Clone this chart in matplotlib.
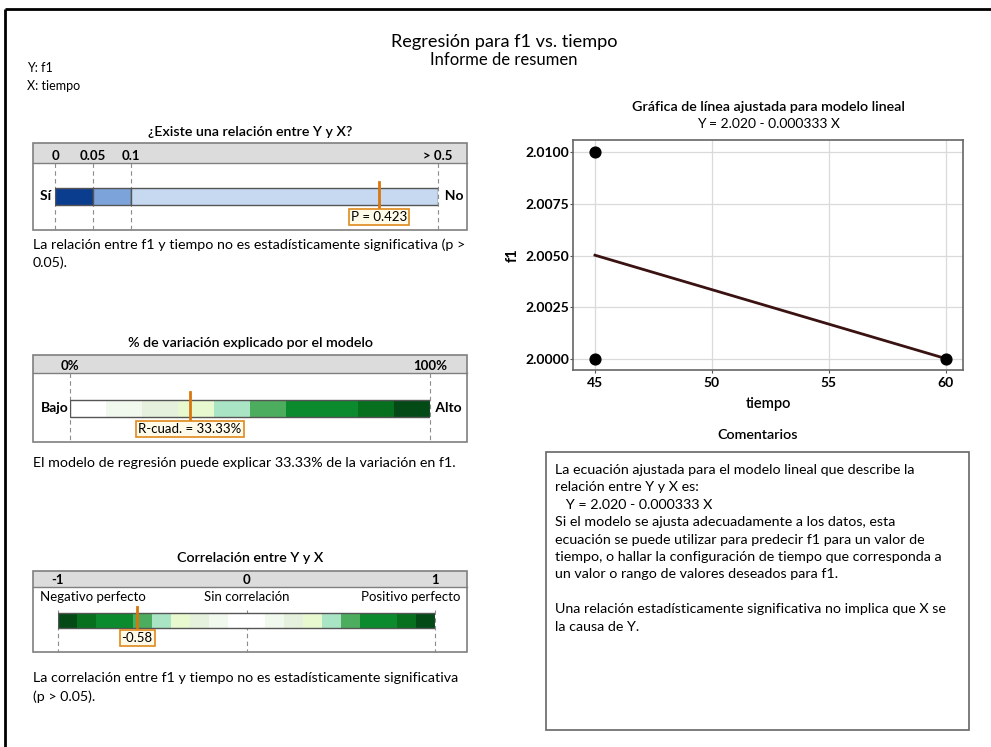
import numpy as np
import matplotlib
matplotlib.use("Agg")
import matplotlib.pyplot as plt
from matplotlib.patches import Rectangle

# ---------------- data ----------------
p_breaks = [0, 0.05, 0.1, 0.5]
p_labels = ["0", "0.05", "0.1", "> 0.5"]
p_colors = ["#0b3d8f", "#7ca4da", "#c6d9f1"]
p_value = 0.423

r2_breaks = [0, 10, 20, 30, 40, 50, 60, 70, 80, 90, 100]
r2_value = 33.33
green_pal = ["#ffffff", "#f1f8ee", "#e5f1dc", "#e8f8cf", "#a9e4c4",
             "#4dad5e", "#0b8a2e", "#0b8a2e", "#06701f", "#034a17"]

corr_breaks = list(np.round(np.arange(-1.0, 1.01, 0.1), 2))
corr_value = -0.58

tiempo = [45, 45, 60]
f1 = [2.010, 2.000, 2.000]
b0, b1 = 2.020, -0.000333
xticks = [45, 50, 55, 60]
yticks = [2.0000, 2.0025, 2.0050, 2.0075, 2.0100]

W, H = 991, 747
FONT = "Lato"
plt.rcParams["font.family"] = [FONT, "DejaVu Sans"]

fig = plt.figure(figsize=(W / 100, H / 100), dpi=100)
fig.patch.set_facecolor("white")

# overlay in pixel coordinates (for layout boxes and texts)
ov = fig.add_axes([0, 0, 1, 1])
ov.set_xlim(0, W)
ov.set_ylim(H, 0)
ov.axis("off")


def fx(x):
    return x / W


def fy(y):
    return 1 - y / H


def px_axes(x0, y0, x1, y1, **kw):
    return fig.add_axes([fx(x0), fy(y1), fx(x1) - fx(x0), fy(y0) - fy(y1)], **kw)


# outer border
ov.plot([5, W], [9, 9], color="black", lw=2, solid_capstyle="butt")
ov.plot([5, 5], [9, H], color="black", lw=2, solid_capstyle="butt")

# titles
ov.text(504, 42, "Regresión para f1 vs. tiempo", ha="center", va="center", fontsize=13.1)
ov.text(504, 60, "Informe de resumen", ha="center", va="center", fontsize=12)
ov.text(27, 68, "Y: f1", ha="left", va="center", fontsize=9)
ov.text(27, 86, "X: tiempo", ha="left", va="center", fontsize=9)

BODY = 10.3
PTITLE = 10.3
GRAY_LINE = "#8c8c8c"


def panel_box(title, title_y, top, hdr, bottom):
    ov.text(250, title_y, title, ha="center", va="center", fontsize=PTITLE, fontweight="semibold")
    ov.add_patch(Rectangle((33, top), 434, hdr - top, facecolor="#dcdcdc", edgecolor="none"))
    ov.add_patch(Rectangle((33, top), 434, bottom - top, facecolor="none", edgecolor="#7f7f7f", lw=1.2))
    ov.plot([33, 467], [hdr, hdr], color="#7f7f7f", lw=1.0)


def label_box(ax, xval, y_lab, label):
    ax.text(xval, y_lab, label, ha="center", va="top", fontsize=9.5, zorder=6, clip_on=False,
            bbox=dict(boxstyle="square,pad=0.15", facecolor="#fffbe8", edgecolor="#e08a1e", lw=1.2))


# ---------------- panel 1: p-value ----------------
panel_box("¿Existe una relación entre Y y X?", 132, 143, 163, 230)
pos_px = [55, 93, 131, 438]
fwd = lambda v: np.interp(v, p_breaks, pos_px)
inv = lambda u: np.interp(u, pos_px, p_breaks)
ax1 = px_axes(55, 163, 438, 230)
ax1.set_xscale("function", functions=(fwd, inv))
ax1.set_xlim(0, 0.5)
ax1.set_ylim(1, 0)
ax1.axis("off")
bar_top, bar_bot = (188 - 163) / 67, (205 - 163) / 67
for i in range(3):
    ax1.barh((bar_top + bar_bot) / 2, p_breaks[i + 1] - p_breaks[i], left=p_breaks[i],
             height=bar_bot - bar_top, color=p_colors[i], edgecolor="#555555", lw=1.0, zorder=2)
for b, lab in zip(p_breaks, p_labels):
    ax1.plot([b, b], [0, 1], color=GRAY_LINE, lw=0.8, ls=(0, (4, 3)), zorder=1, clip_on=False)
    ax1.text(b, -0.01, lab, ha="center", va="bottom", fontsize=9.5, fontweight="bold", clip_on=False)
ax1.text(-0.002, (bar_top + bar_bot) / 2, "Sí ", ha="right", va="center", fontsize=10,
         fontweight="bold")
ax1.text(0.5, (bar_top + bar_bot) / 2, "  No", ha="left", va="center", fontsize=10, fontweight="bold")
ax1.plot([p_value, p_value], [0.28, 0.70], color="#d9770e", lw=2, zorder=5)
label_box(ax1, p_value, 0.71, f"P = {p_value:.3f}")
ov.text(33, 245, "La relación entre f1 y tiempo no es estadísticamente significativa (p >",
        ha="left", va="center", fontsize=BODY)
ov.text(33, 263, "0.05).", ha="left", va="center", fontsize=BODY)

# ---------------- panel 2: R-sq ----------------
panel_box("% de variación explicado por el modelo", 343, 355, 373, 442)
ax2 = px_axes(70, 373, 430, 442)
ax2.set_xlim(0, 100)
ax2.set_ylim(1, 0)
ax2.axis("off")
h = 69
bt, bb = (400 - 373) / h, (417 - 373) / h
for i in range(10):
    ax2.barh((bt + bb) / 2, r2_breaks[i + 1] - r2_breaks[i], left=r2_breaks[i], height=bb - bt,
             color=green_pal[i], edgecolor="none", zorder=2)
ax2.add_patch(Rectangle((0, bt), 100, bb - bt, facecolor="none", edgecolor="#555555", lw=1.0, zorder=3))
for b, lab in [(0, "0%"), (100, "100%")]:
    ax2.plot([b, b], [0, 1], color=GRAY_LINE, lw=0.8, ls=(0, (4, 3)), zorder=1, clip_on=False)
    ax2.text(b, -0.01, lab, ha="center", va="bottom", fontsize=9.5, fontweight="bold", clip_on=False)
ax2.text(-0.5, (bt + bb) / 2, "Bajo", ha="right", va="center", fontsize=10, fontweight="bold")
ax2.text(100.5, (bt + bb) / 2, " Alto", ha="left", va="center", fontsize=10, fontweight="bold")
ax2.plot([r2_value, r2_value], [0.28, 0.72], color="#d9770e", lw=2, zorder=5)
label_box(ax2, r2_value, 0.73, f"R-cuad. = {r2_value:.2f}%")
ov.text(33, 463, "El modelo de regresión puede explicar 33.33% de la variación en f1.",
        ha="left", va="center", fontsize=BODY)

# ---------------- panel 3: correlation ----------------
panel_box("Correlación entre Y y X", 558, 571, 587, 652)
ax3 = px_axes(58, 587, 435, 652)
ax3.set_xlim(-1, 1)
ax3.set_ylim(1, 0)
ax3.axis("off")
h = 65
ct, cb = (613 - 587) / h, (628 - 587) / h
for i in range(len(corr_breaks) - 1):
    lo, hi = corr_breaks[i], corr_breaks[i + 1]
    k = min(int(round(max(abs(lo), abs(hi)) * 10)) - 1, 9)
    ax3.barh((ct + cb) / 2, hi - lo, left=lo, height=cb - ct, color=green_pal[k], edgecolor="none", zorder=2)
ax3.add_patch(Rectangle((-1, ct), 2, cb - ct, facecolor="none", edgecolor="#555555", lw=1.0, zorder=3))
for b, lab in [(-1, "-1"), (0, "0"), (1, "1")]:
    ax3.plot([b, b], [0.35, 1], color=GRAY_LINE, lw=0.8, ls=(0, (4, 3)), zorder=1, clip_on=False)
    ax3.text(b, -0.02, lab, ha="center", va="bottom", fontsize=9.5, fontweight="bold", clip_on=False)
ax3.text(-0.815, 0.15, "Negativo perfecto", ha="center", va="center", fontsize=9.5)
ax3.text(0, 0.15, "Sin correlación", ha="center", va="center", fontsize=9.5)
ax3.text(0.87, 0.15, "Positivo perfecto", ha="center", va="center", fontsize=9.5)
ax3.plot([corr_value, corr_value], [0.3, 0.68], color="#d9770e", lw=2, zorder=5)
label_box(ax3, corr_value, 0.69, f"{corr_value:.2f}")
ov.text(33, 678, "La correlación entre f1 y tiempo no es estadísticamente significativa",
        ha="left", va="center", fontsize=BODY)
ov.text(33, 697, "(p > 0.05).", ha="left", va="center", fontsize=BODY)

# ---------------- fitted line plot ----------------
ov.text(768, 107, "Gráfica de línea ajustada para modelo lineal", ha="center", va="center",
        fontsize=PTITLE, fontweight="semibold")
ov.text(768, 124, "Y = 2.020 - 0.000333 X", ha="center", va="center", fontsize=10)
axp = px_axes(573, 140, 963, 370)
axp.set_xlim(44.06, 60.73)
axp.set_ylim(1.99947, 2.01058)
axp.grid(True, color="#dadada", lw=0.9)
axp.set_axisbelow(True)
xs = np.array([min(tiempo), max(tiempo)])
axp.plot(xs, b0 + b1 * xs, color="#3a1212", lw=2, zorder=3)
axp.scatter(tiempo, f1, s=60, color="black", zorder=4)
axp.set_xticks(xticks)
axp.set_yticks(yticks)
axp.set_yticklabels([f"{v:.4f}" for v in yticks])
for lab in axp.get_xticklabels() + axp.get_yticklabels():
    lab.set_fontweight("bold")
    lab.set_fontsize(10)
axp.tick_params(axis="y", length=2, color="#555555", pad=1)
axp.tick_params(axis="x", length=2, color="#555555", pad=3)
for s in axp.spines.values():
    s.set_color("#666666")
    s.set_linewidth(1.2)
axp.set_xlabel("tiempo", fontsize=10.5, fontweight="semibold", labelpad=6)
axp.set_ylabel("f1", fontsize=10.5, fontweight="bold", labelpad=4)

# ---------------- comments ----------------
ov.text(758, 435, "Comentarios", ha="center", va="center", fontsize=PTITLE, fontweight="semibold")
ov.add_patch(Rectangle((546, 452), 423, 278, facecolor="white", edgecolor="#666666", lw=1.2))
comment_lines = [
    "La ecuación ajustada para el modelo lineal que describe la",
    "relación entre Y y X es:",
    "   Y = 2.020 - 0.000333 X",
    "Si el modelo se ajusta adecuadamente a los datos, esta",
    "ecuación se puede utilizar para predecir f1 para un valor de",
    "tiempo, o hallar la configuración de tiempo que corresponda a",
    "un valor o rango de valores deseados para f1.",
    "",
    "Una relación estadísticamente significativa no implica que X se",
    "la causa de Y.",
]
for i, line in enumerate(comment_lines):
    ov.text(555, 470 + i * 17.4, line, ha="left", va="center", fontsize=BODY)

fig.savefig("out.png", dpi=100)
